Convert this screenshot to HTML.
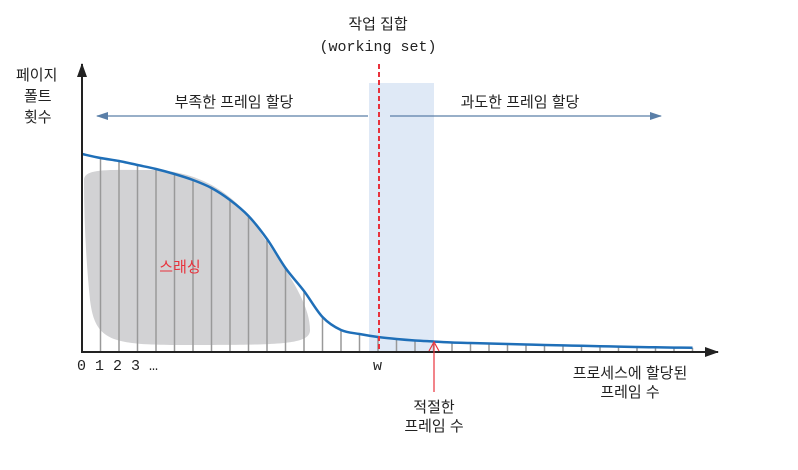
<!DOCTYPE html>
<html><head><meta charset="utf-8"><style>
body{margin:0;background:#fff}
svg text{font-family:"Liberation Sans","Noto Sans CJK KR",sans-serif;font-size:15px;fill:#222}
.mono{font-family:"Liberation Mono","Noto Sans CJK KR",monospace;font-size:15px}
</style></head><body>
<svg width="798" height="465" viewBox="0 0 798 465">
<defs>
<marker id="ah" markerUnits="userSpaceOnUse" markerWidth="12" markerHeight="8" refX="11" refY="4" orient="auto"><path d="M0,0 L12,4 L0,8 z" fill="#5a7fa8"/></marker>
<marker id="ak" markerUnits="userSpaceOnUse" markerWidth="14" markerHeight="10" refX="13" refY="5" orient="auto"><path d="M0,0 L14,5 L0,10 z" fill="#222"/></marker>
</defs>
<rect x="369" y="83" width="65" height="269" fill="#dfe9f6"/>
<path d="M84,180 C84,168 110,170 150,170 C195,170 235,190 262,235 C290,275 310,305 310,330 C310,345 280,345 180,345 C110,345 95,340 90,300 C86,260 84,220 84,180 Z" fill="#d2d2d4"/>
<g id="ticks"></g>
<path id="curve" fill="none" stroke="#1f6fb8" stroke-width="2.5"/>
<line x1="82" y1="353" x2="82" y2="64" stroke="#222" stroke-width="2" marker-end="url(#ak)"/>
<line x1="81" y1="352" x2="718" y2="352" stroke="#222" stroke-width="2" marker-end="url(#ak)"/>
<line x1="379" y1="64" x2="379" y2="352" stroke="#e8323c" stroke-width="2" stroke-dasharray="5,3"/>
<line x1="368" y1="116" x2="97" y2="116" stroke="#5a7fa8" stroke-width="1.2" marker-end="url(#ah)"/>
<line x1="390" y1="116" x2="661" y2="116" stroke="#5a7fa8" stroke-width="1.2" marker-end="url(#ah)"/>
<line x1="434" y1="392" x2="434" y2="344" stroke="#e8323c" stroke-width="1.2"/>
<path d="M429,351 L434,342 L439,351" fill="none" stroke="#e8323c" stroke-width="1.2"/>
<text x="378" y="29" text-anchor="middle">작업 집합</text>
<text x="378" y="51" text-anchor="middle" class="mono">(working set)</text>
<text x="16" y="80">페이지</text>
<text x="24" y="101">폴트</text>
<text x="24" y="122">횟수</text>
<text x="234" y="107" text-anchor="middle">부족한 프레임 할당</text>
<text x="520" y="107" text-anchor="middle">과도한 프레임 할당</text>
<text x="180" y="272" text-anchor="middle" style="fill:#e8323c">스래싱</text>
<text x="77" y="370" class="mono">0 1 2 3 …</text>
<text x="373" y="370" class="mono">w</text>
<text x="630" y="378" text-anchor="middle">프로세스에 할당된</text>
<text x="630" y="397" text-anchor="middle">프레임 수</text>
<text x="434" y="412" text-anchor="middle">적절한</text>
<text x="434" y="431" text-anchor="middle">프레임 수</text>
</svg>
<script>
const frames=[0,1,2,3,4,5,6,7,8,9,10,11,12,13,14,15,16,17,18,19,20,21,22,23,24,25,26,27,28,29,30,31,32,33];
const faults=[198,194,191,187,183,178,172,164,152,136,113,84,61,35,22,18,15,13,11.5,10.5,9.5,9,8.5,8,7.5,7,6.6,6.2,5.8,5.4,5,4.7,4.4,4.2];
const xs=f=>82+f*18.5, ys=v=>352-v;
const pts=frames.map((f,i)=>[xs(f),ys(faults[i])]);
let d=`M${pts[0][0]},${pts[0][1]}`;
for(let i=0;i<pts.length-1;i++){
 const p0=pts[Math.max(0,i-1)],p1=pts[i],p2=pts[i+1],p3=pts[Math.min(pts.length-1,i+2)];
 d+=` C${p1[0]+(p2[0]-p0[0])/6},${p1[1]+(p2[1]-p0[1])/6} ${p2[0]-(p3[0]-p1[0])/6},${p2[1]-(p3[1]-p1[1])/6} ${p2[0]},${p2[1]}`;
}
document.getElementById('curve').setAttribute('d',d);
const g=document.getElementById('ticks');
frames.forEach((f,i)=>{ if(i===0)return;
 const l=document.createElementNS('http://www.w3.org/2000/svg','line');
 l.setAttribute('x1',xs(f));l.setAttribute('x2',xs(f));
 l.setAttribute('y1',ys(faults[i]));l.setAttribute('y2',352);
 l.setAttribute('stroke','#999');l.setAttribute('stroke-width','1.5');
 
 
 g.appendChild(l);
});
</script>
</body></html>
